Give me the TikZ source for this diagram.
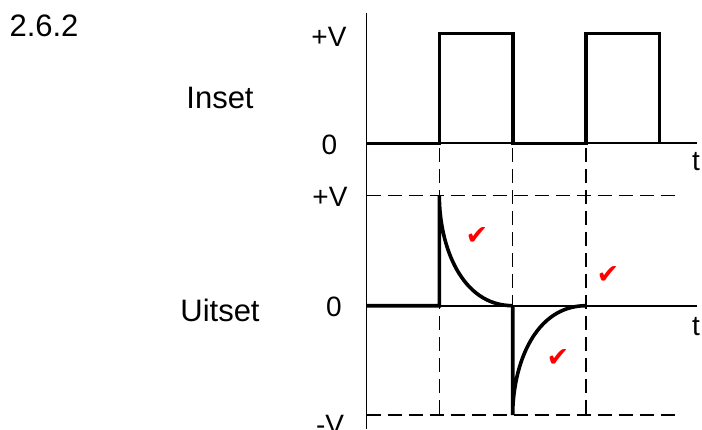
\documentclass[tikz,border=0pt]{standalone}
\usepackage{fontspec}
\setmainfont{Liberation Sans}
\newfontfamily\checkfont{DejaVu Sans}
\definecolor{tickred}{HTML}{FF0000}

\begin{document}
\begin{tikzpicture}[x=0.5pt,y=-0.5pt,
  axis/.style={line width=0.85pt},
  signal/.style={line width=1.8pt,line join=miter},
  guide/.style={line width=0.7pt,dash pattern=on 7pt off 3.5pt},
  lbl/.style={font=\fontsize{14}{16}\selectfont,inner sep=0pt},
  big/.style={font=\fontsize{15.5}{18}\selectfont,inner sep=0pt},
  okmark/.style={text=tickred,font=\checkfont\fontsize{13.5}{15}\selectfont,inner sep=0pt}]
\clip (0,0) rectangle (702,429);

% axes
\coordinate (top) at (366.5,13);
\coordinate (bot) at (366.5,429);
\coordinate (in0) at (366.5,143.3);
\coordinate (inE) at (697,143.3);
\coordinate (out0) at (366.5,305.7);
\coordinate (outE) at (697,305.7);
\draw[axis] (top) -- (bot);
\draw[axis] (in0) -- (inE);
\draw[axis] (out0) -- (outE);

% dashed guides
\foreach \y in {195.7,415}
  \draw[guide] (366.5,\y) -- (678,\y);
\foreach \x in {439.3,512.7,586}
  \draw[guide] (\x,148) -- (\x,415);

% input
\draw[signal] (in0) -- (439.3,143.3) -- (439.3,33.3) -- (512.7,33.3) -- (512.7,143.3)
  -- (586,143.3) -- (586,33.3) -- (659.3,33.3) -- (659.3,143.3);

% output
\draw[signal] (out0) -- (439.3,305.7) -- (439.3,195.7)
  .. controls (439.3,245.7) and (461.3,305.7) .. (512.7,305.7);
\draw[signal] (512.7,305.7) -- (512.7,415)
  .. controls (512.7,365) and (534.7,305.7) .. (586,305.7);

\node[big] (num) at (44,26) {2.6.2};
\node[big] (inset) at (220,98) {Inset};
\node[big] (uitset) at (220,310) {Uitset};
\node[lbl] (inV) at (329,37) {+V};
\node[lbl] (inZero) at (329.5,145) {0};
\node[lbl] (inT) at (696,162) {t};
\node[lbl] (outV) at (330,197) {+V};
\node[lbl] (outZero) at (334,307) {0};
\node[lbl] (outT) at (696,327) {t};
\node[lbl] (outMinV) at (330,425) {-V};

\node[okmark] (ok1) at (477,236) {✔};
\node[okmark] (ok2) at (608,275) {✔};
\node[okmark] (ok3) at (558,358) {✔};
\end{tikzpicture}
\end{document}
